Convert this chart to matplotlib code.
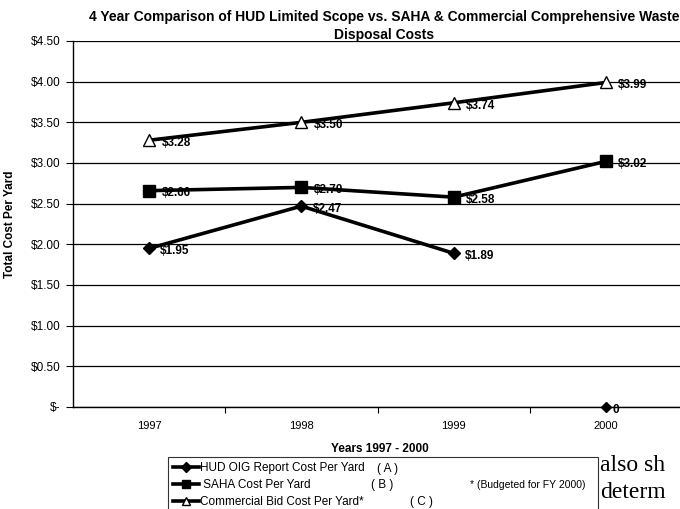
"""HUD vs SAHA vs commercial waste disposal cost per yard, 1997-2000."""

import matplotlib.pyplot as plt
from matplotlib.lines import Line2D
from matplotlib.ticker import FuncFormatter, FixedLocator

plt.switch_backend("Agg")
plt.rcParams["font.family"] = ["Liberation Sans", "DejaVu Sans"]

YEARS = ["1997", "1998", "1999", "2000"]
HUD_COST = [1.95, 2.47, 1.89, 0.0]
SAHA_COST = [2.66, 2.70, 2.58, 3.02]
COMMERCIAL_COST = [3.28, 3.50, 3.74, 3.99]
LEGEND_LABELS = [
    "HUD OIG Report Cost Per Yard",
    " SAHA Cost Per Yard",
    "Commercial Bid Cost Per Yard*",
]

W, H = 680, 509


def fx(px):
    return px / W


def fy(py):
    return 1 - py / H


def money(v, _pos=None):
    return "$-" if abs(v) < 1e-9 else f"${v:.2f}"


fig = plt.figure(figsize=(W / 100, H / 100), dpi=100)
ax = fig.add_axes([fx(73), fy(407), fx(682) - fx(73), fy(41) - fy(407)])

xs = list(range(len(YEARS)))
line_kw = dict(color="black", lw=2.6, zorder=3)

# HUD line stops at 1999; the 2000 value sits alone at zero
ax.plot(xs[:3], HUD_COST[:3], marker="D", ms=6.5, mfc="black", mec="black", **line_kw)
ax.plot(xs[3:], HUD_COST[3:], ls="none", marker="D", ms=5.5, mfc="black",
        mec="black", zorder=3, clip_on=False)
ax.plot(xs, SAHA_COST, marker="s", ms=8, mfc="black", mec="black", **line_kw)
ax.plot(xs, COMMERCIAL_COST, marker="^", ms=9, mfc="white", mec="black",
        mew=1.0, **line_kw)

lab_kw = dict(textcoords="offset points", fontsize=8.5, fontweight="bold",
              ha="left", va="center", zorder=4)
for x, v in zip(xs[:3], HUD_COST[:3]):
    ax.annotate(money(v), (x, v), xytext=(8, -2), **lab_kw)
ax.annotate("0", (xs[3], HUD_COST[3]), xytext=(5, -2), **lab_kw)
for x, v in zip(xs, SAHA_COST):
    ax.annotate(money(v), (x, v), xytext=(9, -2), **lab_kw)
for x, v in zip(xs, COMMERCIAL_COST):
    ax.annotate(money(v), (x, v), xytext=(9, -2), **lab_kw)

ax.set_xlim(-0.5, 3.5)
ax.set_ylim(0, 4.5)
ax.set_yticks([i * 0.5 for i in range(10)])
ax.yaxis.set_major_formatter(FuncFormatter(money))
ax.yaxis.grid(True, color="black", lw=0.9)
ax.set_axisbelow(True)

ax.set_xticks(xs)
ax.set_xticklabels(YEARS)
ax.xaxis.set_minor_locator(FixedLocator([0.5, 1.5, 2.5]))
ax.tick_params(axis="x", which="major", length=0, pad=10, labelsize=8)
ax.tick_params(axis="x", which="minor", length=4, width=0.8, direction="out")
ax.tick_params(axis="y", length=5, width=0.8, pad=4, labelsize=8.5)

for side in ("top", "right"):
    ax.spines[side].set_visible(False)
for side in ("left", "bottom"):
    ax.spines[side].set_color("black")
    ax.spines[side].set_linewidth(1.0)

ax.set_ylabel("Total Cost Per Yard", fontsize=8.5, fontweight="bold")
ax.yaxis.set_label_coords((fx(16) - fx(73)) / (fx(682) - fx(73)), 0.5)

fig.text(fx(384), fy(17),
         "4 Year Comparison of HUD Limited Scope vs. SAHA & Commercial Comprehensive Waste",
         ha="center", va="center", fontsize=10, fontweight="bold")
fig.text(fx(384), fy(35), "Disposal Costs", ha="center", va="center",
         fontsize=10, fontweight="bold")
fig.text(fx(380), fy(449), "Years 1997 - 2000", ha="center", va="center",
         fontsize=8.5, fontweight="bold")

handles = [
    Line2D([], [], color="black", lw=2.6, marker="D", ms=5, mfc="black"),
    Line2D([], [], color="black", lw=2.6, marker="s", ms=6, mfc="black"),
    Line2D([], [], color="black", lw=2.6, marker="^", ms=6, mfc="white", mew=1.0),
]
leg = fig.legend(handles, LEGEND_LABELS, loc="upper left",
                 bbox_to_anchor=(fx(168), fy(457) - 0.2, fx(598) - fx(168), 0.2),
                 mode="expand", fontsize=8.5, frameon=True, fancybox=False,
                 borderpad=0.45, labelspacing=0.4, handlelength=2.2,
                 handletextpad=0.1, borderaxespad=0)
leg.get_frame().set_edgecolor("black")
leg.get_frame().set_linewidth(0.8)

note_kw = dict(va="center", fontsize=8.5, zorder=10)
fig.text(fx(388), fy(469), "( A )", ha="center", **note_kw)
fig.text(fx(382), fy(485), "( B )", ha="center", **note_kw)
fig.text(fx(422), fy(502), "( C )", ha="center", **note_kw)
fig.text(fx(470), fy(485), "* (Budgeted for FY 2000)", ha="left",
         va="center", fontsize=7.5, zorder=10)

# body text of the scanned page that shows at the lower right corner
fig.text(fx(600), fy(471), "also sh", ha="left", va="baseline",
         fontsize=17, family=["Liberation Serif", "DejaVu Serif"])
fig.text(fx(600), fy(498), "determ", ha="left", va="baseline",
         fontsize=17, family=["Liberation Serif", "DejaVu Serif"])

fig.savefig("out.png", dpi=100)
